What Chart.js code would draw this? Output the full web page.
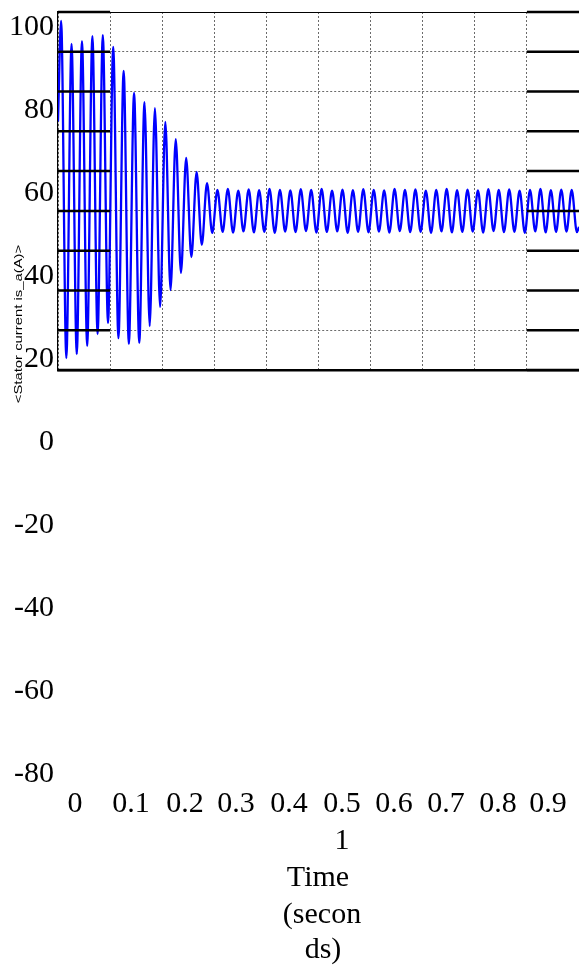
<!DOCTYPE html>
<html lang="en">

<head>
  <meta charset="utf-8" />
  <title>Stator current</title>
  <script src="https://cdn.jsdelivr.net/npm/chart.js"></script>
  <style>
    html, body { margin: 0; padding: 0; background: #fff; }
    canvas { display: block; }
  </style>
</head>

<body>
  <canvas id="currentChart" width="579" height="965"></canvas>

  <script>
    // tick labels as printed (the labels sit loose on the page, away from the axes)
    const yTickLabels = ['100', '80', '60', '40', '20', '0', '-20', '-40', '-60', '-80'];
    const xTickLabels = ['0', '0.1', '0.2', '0.3', '0.4', '0.5', '0.6', '0.7', '0.8', '0.9'];
    const xTickLast = '1';
    const xTitleLines = ['Time', '(secon', 'ds)'];
    const yTitle = '<Stator current is_a(A)>';

    // is_a: one peak and one trough per 50 Hz cycle
    const firstPeakTime = 0.006;
    const period = 0.02;
    const startValue = 45;
    const endValue = -8;
    const peakValues = [
      95.5, 83.9, 85.4, 87.9, 88.4, 82.4, 70.4, 59.3, 54.7, 51.7,
      44.7, 36.1, 26.6, 19.6, 14.0, 10.5, 11.0, 10.2, 10.8, 10.4,
      11.1, 10.6, 10.3, 10.9, 10.5, 11.0, 10.2, 10.7, 10.4, 10.9,
      10.6, 10.3, 11.0, 10.5, 10.8, 10.2, 10.6, 11.0, 10.4, 10.7,
      10.3, 10.9, 10.5, 10.8, 10.2, 10.6, 11.0, 10.4, 10.7, 10.5
    ];
    const troughValues = [
      -74.0, -72.0, -67.9, -61.9, -56.4, -64.0, -66.9, -66.4, -57.9, -48.3,
      -39.8, -31.2, -23.2, -17.1, -11.1, -10.6, -10.9, -10.3, -10.8, -10.5,
      -11.0, -10.4, -10.7, -10.2, -10.9, -10.6, -10.3, -11.0, -10.5, -10.8,
      -10.4, -10.9, -10.2, -10.7, -10.5, -11.0, -10.3, -10.8, -10.6, -10.4,
      -10.9, -10.2, -10.7, -10.5, -11.0, -10.3, -10.8, -10.6, -10.4, -10.7
    ];

    const yTickValues = yTickLabels.map(Number);
    const xMin = 0, xMax = 1, xStep = 0.1;
    const yMin = -80, yMax = 100, yStep = 20;

    const currentPoints = [{ x: 0, y: startValue }];
    peakValues.forEach((p, k) => {
      const t = firstPeakTime + k * period;
      currentPoints.push({ x: t, y: p });
      currentPoints.push({ x: t + period / 2, y: troughValues[k] });
    });
    currentPoints.push({ x: 1, y: endValue });

    // heavy tick marks along the left and right first/last divisions
    const tickMarkPoints = [];
    yTickValues.forEach(v => {
      tickMarkPoints.push({ x: xMin, y: v }, { x: xMin + xStep, y: v }, { x: xMin + xStep, y: null });
      tickMarkPoints.push({ x: xMax - xStep, y: v }, { x: xMax, y: v }, { x: xMax, y: null });
    });

    const looseText = {
      id: 'looseText',
      afterDraw(chart) {
        const ctx = chart.ctx;
        ctx.save();
        ctx.fillStyle = '#000';
        ctx.textBaseline = 'alphabetic';
        ctx.font = '30px "Liberation Serif", "Times New Roman", serif';

        ctx.textAlign = 'right';
        yTickLabels.forEach((t, i) => ctx.fillText(t, 54, 35 + 83 * i));

        ctx.textAlign = 'center';
        const xLabelCenters = [75, 131, 185, 236, 289, 342, 394, 446, 498, 548];
        xTickLabels.forEach((t, i) => ctx.fillText(t, xLabelCenters[i], 812));
        ctx.fillText(xTickLast, 342, 849);
        const titleX = [318, 322, 323];
        const titleY = [886, 923, 958];
        xTitleLines.forEach((t, i) => ctx.fillText(t, titleX[i], titleY[i]));

        ctx.translate(19, 324);
        ctx.rotate(-Math.PI / 2);
        ctx.scale(1.35, 1);
        ctx.font = '11px "Liberation Sans", Arial, sans-serif';
        ctx.textBaseline = 'middle';
        ctx.fillText(yTitle, 0, 0);
        ctx.restore();
      }
    };

    const gridStyle = {
      color: 'rgba(70, 70, 70, 0.8)',
      lineWidth: 1,
      drawTicks: false
    };

    new Chart(document.getElementById('currentChart').getContext('2d'), {
      type: 'line',
      data: {
        datasets: [
          {
            label: 'ticks',
            data: tickMarkPoints,
            borderColor: '#000',
            borderWidth: 2.5,
            pointRadius: 0,
            spanGaps: false,
            clip: false,
            order: 0
          },
          {
            label: yTitle,
            data: currentPoints,
            borderColor: '#0000ff',
            borderWidth: 2.3,
            pointRadius: 0,
            cubicInterpolationMode: 'monotone',
            order: 1
          }
        ]
      },
      options: {
        responsive: false,
        animation: false,
        devicePixelRatio: 1,
        layout: { padding: { left: 58, top: 12, right: 0, bottom: 595 } },
        plugins: { legend: { display: false }, tooltip: { enabled: false } },
        scales: {
          x: {
            type: 'linear',
            min: xMin,
            max: xMax,
            ticks: { display: false, stepSize: xStep },
            grid: gridStyle,
            border: { display: true, color: '#000', width: 2.5, dash: [2, 2] }
          },
          xTop: {
            type: 'linear',
            position: 'top',
            min: xMin,
            max: xMax,
            ticks: { display: false },
            grid: { display: false, drawTicks: false },
            border: { display: true, color: '#000', width: 1 }
          },
          y: {
            min: yMin,
            max: yMax,
            ticks: { display: false, stepSize: yStep },
            grid: gridStyle,
            border: { display: true, color: '#000', width: 1.2, dash: [2, 2] }
          }
        }
      },
      plugins: [looseText]
    });
  </script>
</body>

</html>
